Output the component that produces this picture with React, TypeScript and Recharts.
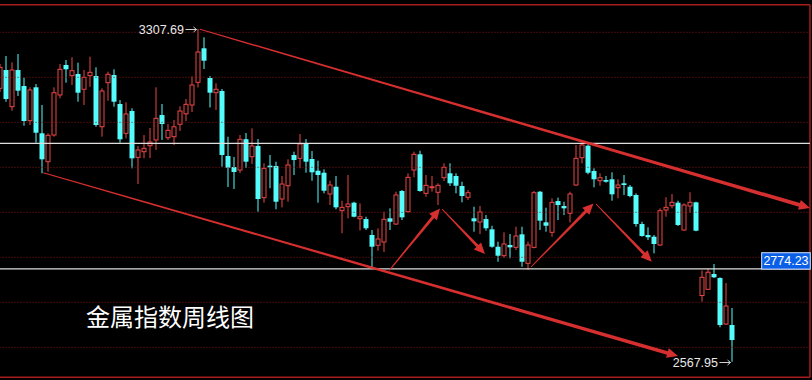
import React from 'react';
import { ComposedChart, Bar, XAxis, YAxis, ReferenceLine, ReferenceDot } from 'recharts';

// Weekly OHLC of the metals index
const opens = [
  3175.6, 3216.2, 3134.7, 3216.2, 3180.7, 3103.6, 3177.8, 3075.6, 3012.5, 3071.8,
  3160.7, 3227.4, 3203.6, 3207.4, 3173.4, 3203.6, 3202.9, 3090.2, 3188.0, 3205.1,
  3140.7, 3075.6, 3125.1, 3022.2, 3034.7, 3048.0, 3060.7, 3116.2, 3065.8, 3068.0,
  3095.6, 3118.9, 3138.5, 3188.9, 3264.5, 3198.5, 3165.8, 3169.6, 3025.1, 3000.7,
  2994.0, 3062.5, 3023.6, 3047.4, 2932.5, 3003.6, 3002.9, 2929.6, 2959.1, 3027.4,
  3020.0, 3051.8, 3018.5, 2992.5, 2988.0, 2940.7, 2956.9, 2903.6, 2912.5, 2921.4,
  2885.8, 2885.1, 2849.6, 2826.7, 2834.0, 2886.7, 2874.0, 2947.4, 2901.4, 2994.0,
  3028.9, 2942.2, 2954.7, 2944.5, 2976.9, 2986.7, 2980.7, 2958.5, 2933.4, 2886.7,
  2878.5, 2885.1, 2862.2, 2823.6, 2803.6, 2827.4, 2822.2, 2851.1, 2786.7, 2822.2,
  2945.8, 2877.8, 2855.6, 2925.1, 2914.0, 2897.8, 2960.7, 3021.4, 3048.0, 2991.8,
  2970.2, 2971.8, 2973.4, 2954.7, 2964.5, 2956.9, 2938.5, 2874.0, 2849.6, 2845.8,
  2827.4, 2905.1, 2914.7, 2921.4, 2860.7, 2914.0, 2922.2, 2715.1, 2728.9, 2762.9,
  2754.0, 2651.8, 2649.6,
];
const highs = [
  3229.6, 3247.4, 3233.4, 3251.8, 3199.1, 3177.8, 3185.1, 3138.5, 3075.6, 3177.8,
  3229.6, 3238.5, 3244.5, 3232.5, 3216.2, 3245.8, 3222.2, 3175.6, 3212.5, 3217.8,
  3149.6, 3144.5, 3131.1, 3047.4, 3071.8, 3087.4, 3177.8, 3140.7, 3096.2, 3105.1,
  3135.6, 3151.8, 3202.2, 3307.69, 3288.9, 3202.9, 3186.7, 3174.0, 3068.0, 3022.9,
  3071.8, 3076.2, 3086.7, 3062.9, 3008.9, 3027.4, 3012.5, 2980.7, 3017.8, 3034.7,
  3074.0, 3062.9, 3036.2, 3014.7, 2995.6, 2970.2, 2980.7, 2925.8, 2982.9, 2923.6,
  2919.6, 2890.2, 2860.7, 2864.5, 2901.4, 2908.9, 2945.8, 2949.6, 2986.7, 3034.7,
  3036.9, 2982.9, 2980.7, 2964.5, 3008.9, 3008.9, 2986.7, 2968.0, 2949.6, 2912.5,
  2914.0, 2894.0, 2870.2, 2834.7, 2855.6, 2851.8, 2868.0, 2868.0, 2834.7, 2947.4,
  2947.4, 2910.2, 2931.1, 2932.5, 2923.6, 2945.8, 3049.6, 3056.9, 3051.1, 2997.8,
  2986.7, 2980.7, 2988.9, 2973.4, 2982.9, 2960.7, 2942.2, 2879.1, 2866.7, 2849.6,
  2908.9, 2933.4, 2940.7, 2925.8, 2920.0, 2944.5, 2923.6, 2770.7, 2775.1, 2785.1,
  2755.6, 2742.9, 2687.4,
];
const lows = [
  3167.4, 3145.8, 3125.8, 3158.5, 3092.5, 3094.0, 3054.7, 2986.7, 2990.2, 3068.0,
  3153.4, 3188.0, 3182.9, 3145.8, 3138.5, 3179.1, 3090.2, 3068.0, 3148.0, 3134.7,
  3054.7, 3064.5, 2997.8, 2962.9, 3020.0, 3020.7, 3038.5, 3060.7, 3060.7, 3049.6,
  3080.7, 3102.9, 3122.9, 3177.4, 3218.5, 3132.9, 3127.4, 3001.4, 2956.2, 2951.8,
  2987.4, 2998.5, 3007.4, 2901.4, 2921.4, 2953.4, 2906.7, 2911.1, 2923.6, 2982.9,
  2997.8, 2988.0, 2970.2, 2921.4, 2942.2, 2916.2, 2906.7, 2853.4, 2886.7, 2888.9,
  2859.6, 2860.7, 2775.6, 2814.7, 2811.8, 2860.7, 2871.8, 2882.9, 2899.0, 2977.8,
  2945.8, 2934.7, 2945.8, 2916.2, 2969.6, 2958.5, 2942.2, 2922.2, 2927.4, 2856.9,
  2851.8, 2859.1, 2821.4, 2790.2, 2799.1, 2797.8, 2816.2, 2779.1, 2771.8, 2820.0,
  2860.7, 2856.9, 2845.8, 2882.9, 2894.0, 2877.8, 2959.1, 3008.9, 2984.5, 2955.6,
  2959.1, 2965.8, 2925.8, 2931.1, 2938.5, 2933.4, 2868.0, 2845.8, 2838.5, 2808.9,
  2825.0, 2890.2, 2908.9, 2869.6, 2859.1, 2899.1, 2858.0, 2701.4, 2727.4, 2754.0,
  2644.5, 2649.6, 2567.95,
];
const closes = [
  3222.2, 3151.8, 3216.2, 3170.2, 3102.9, 3171.8, 3076.9, 3017.8, 3071.1, 3165.8,
  3217.8, 3217.8, 3214.7, 3165.8, 3200.0, 3211.1, 3094.0, 3169.6, 3206.7, 3145.8,
  3062.2, 3118.5, 3020.0, 3038.5, 3042.2, 3056.2, 3108.9, 3096.2, 3082.2, 3090.0,
  3125.1, 3140.0, 3182.9, 3256.2, 3236.9, 3165.8, 3173.4, 3027.4, 2999.1, 2989.6,
  3062.2, 3012.5, 3047.4, 2929.6, 2997.8, 3000.0, 2923.6, 2962.9, 3005.1, 3016.2,
  3051.8, 3012.5, 2988.9, 2982.9, 2948.0, 2960.7, 2911.1, 2911.1, 2918.5, 2890.2,
  2890.2, 2864.5, 2823.6, 2840.7, 2884.5, 2879.1, 2938.5, 2888.9, 2977.8, 3028.9,
  2947.4, 2960.0, 2956.9, 2960.0, 3000.0, 2964.5, 2959.1, 2936.2, 2943.6, 2880.0,
  2900.7, 2864.5, 2823.6, 2803.6, 2829.6, 2822.2, 2847.4, 2790.2, 2827.4, 2943.6,
  2881.4, 2870.2, 2922.2, 2916.2, 2908.9, 2940.7, 3020.0, 3049.6, 2988.0, 2973.4,
  2976.9, 2968.0, 2940.0, 2960.7, 2960.7, 2936.2, 2874.0, 2847.4, 2844.5, 2829.6,
  2903.6, 2911.1, 2922.2, 2871.8, 2916.2, 2922.2, 2859.1, 2755.6, 2766.9, 2755.6,
  2649.6, 2691.8, 2616.2,
];

// Week slots on the time axis (empty slots leave room on the right)
const slotCount = 136;
const weeks = Array.from({ length: slotCount }, (_, i) => i);

// Horizontal levels
const gridPrices = [3300, 3200, 3100, 3000, 2900, 2800, 2700, 2600];
const resistanceLevel = 3053.3;
const lastPrice = 2774.23;

// Marked extremes
const peakWeek = 33;
const peakPrice = 3307.69;
const troughWeek = 122;
const troughPrice = 2567.95;

// Descending channel: [week, price] endpoints
const channelUpper: [number, number][] = [[33.42, 3306.7], [135.08, 2909.6]];
const channelLower: [number, number][] = [[7.3, 2988.0], [113.08, 2580.7]];

// Swing arrows: [week, price] start and end
const swingArrows: [number, number][][] = [
  [[64.97, 2771.1], [73.42, 2908.5]],
  [[73.75, 2907.4], [80.92, 2807.4]],
  [[88.58, 2778.5], [99.0, 2919.6]],
  [[99.42, 2918.5], [108.7, 2790.2]],
];

// Panel frame, in chart units
const frameTop = 3361.4;
const frameBottom = 2533.4;
const frameLeft = -0.5;
const frameRight = 135.08;
const priceBoxWeek = 131.08;

const RED = '#ec4646';
const CYAN = '#54fcfc';
const ARROW_RED = '#e23232';
const NUM_FONT = "Arial, 'Liberation Sans', sans-serif";

const data = weeks.map((i) =>
  i < opens.length
    ? { i, open: opens[i], high: highs[i], low: lows[i], close: closes[i], range: [lows[i], highs[i]] }
    : { i, range: null }
);

const Candle = (props: any) => {
  const { x, y, width, height, payload } = props;
  if (!payload || payload.high == null) return null;
  const top = Math.min(y, y + height);
  const h = Math.abs(height);
  const span = payload.high - payload.low;
  const k = span > 0 ? h / span : 0;
  const py = (v: number) => top + (payload.high - v) * k;
  const up = payload.close >= payload.open;
  const cx = x + width / 2;
  const bodyTop = py(Math.max(payload.open, payload.close));
  const bodyBot = py(Math.min(payload.open, payload.close));
  if (up) {
    const bh = Math.max(bodyBot - bodyTop, 0.8);
    return (
      <g>
        <line x1={cx} x2={cx} y1={top} y2={bodyTop} stroke={RED} strokeWidth={1} />
        <line x1={cx} x2={cx} y1={bodyTop + bh} y2={top + h} stroke={RED} strokeWidth={1} />
        <rect x={x + 0.5} y={bodyTop} width={width - 1} height={bh} fill="none" stroke={RED} strokeWidth={1} />
      </g>
    );
  }
  return (
    <g>
      <line x1={cx} x2={cx} y1={top} y2={top + h} stroke={CYAN} strokeWidth={1} />
      <rect x={x} y={bodyTop} width={width} height={Math.max(bodyBot - bodyTop, 1.5)} fill={CYAN} />
    </g>
  );
};

// Arrow whose shaft widens from w0 to w1 and ends in a triangular head
const taperedArrow = (w0: number, w1: number, headLen: number, headHalf: number, color: string) =>
  (p: any) => {
    const x1 = Number(p.x1), y1 = Number(p.y1), x2 = Number(p.x2), y2 = Number(p.y2);
    const dx = x2 - x1, dy = y2 - y1;
    const len = Math.hypot(dx, dy) || 1;
    const ux = dx / len, uy = dy / len;
    const nx = -uy, ny = ux;
    const bx = x2 - ux * headLen, by = y2 - uy * headLen;
    const pts = [
      [x1 + nx * w0 / 2, y1 + ny * w0 / 2],
      [bx + nx * w1 / 2, by + ny * w1 / 2],
      [bx + nx * headHalf, by + ny * headHalf],
      [x2, y2],
      [bx - nx * headHalf, by - ny * headHalf],
      [bx - nx * w1 / 2, by - ny * w1 / 2],
      [x1 - nx * w0 / 2, y1 - ny * w0 / 2],
    ];
    return <polygon points={pts.map((q) => q.join(',')).join(' ')} fill={color} fillOpacity={0.95} />;
  };

// Value tag with a small pointer ending at the candle
const extremeTag = (text: string) => (p: any) => {
  const cx = Number(p.cx);
  const cy = Math.round(Number(p.cy)) + 0.5;
  return (
    <g>
      <text x={cx - 13.5} y={cy} textAnchor="end" dominantBaseline="central" fontSize={12.5}
        fontFamily={NUM_FONT} fill="#e8e8e8">{text}</text>
      <line x1={cx - 12} y1={cy} x2={cx - 1} y2={cy} stroke="#cfcfcf" strokeWidth={1} />
      <polyline points={`${cx - 4},${cy - 2.5} ${cx - 1},${cy} ${cx - 4},${cy + 2.5}`} fill="none"
        stroke="#cfcfcf" strokeWidth={1} />
    </g>
  );
};

const priceBox = (text: string) => (p: any) => {
  const cx = Number(p.cx);
  const cy = Number(p.cy);
  return (
    <g>
      <rect x={cx - 24.3} y={cy - 16.2} width={48.6} height={16.4} fill="#0a5fe6" stroke="#d8e2ff" strokeWidth={1} />
      <text x={cx} y={cy - 7.8} textAnchor="middle" dominantBaseline="central" fontSize={12.5}
        fontFamily={NUM_FONT} fill="#ffffff">{text}</text>
    </g>
  );
};

export default function App() {
  return (
    <div style={{ position: 'fixed', left: 0, top: 0, width: 812, height: 380, background: '#000', overflow: 'hidden' }}>
      <div style={{ position: 'absolute', left: -4, top: 0 }}>
        <ComposedChart width={820} height={380} data={data} margin={{ top: 0, right: 3.5, bottom: 0, left: 0.5 }}>
          <XAxis xAxisId="c" dataKey="i" type="category" hide />
          <XAxis xAxisId="n" dataKey="i" type="number" domain={[-0.5, 135.5]} allowDataOverflow hide />
          <YAxis type="number" domain={[2527.4, 3371.8]} allowDataOverflow hide />

          {gridPrices.map((g) => (
            <ReferenceLine key={g} xAxisId="n" segment={[{ x: frameLeft, y: g }, { x: frameRight, y: g }]}
              stroke="#8a1616" strokeWidth={1} strokeDasharray="1 2" />
          ))}

          <ReferenceLine xAxisId="n" segment={[{ x: frameLeft, y: frameTop }, { x: frameRight, y: frameTop }]}
            stroke="#a81c1c" strokeWidth={1.5} />
          <ReferenceLine xAxisId="n" segment={[{ x: frameLeft, y: frameBottom }, { x: frameRight, y: frameBottom }]}
            stroke="#a81c1c" strokeWidth={1.5} />
          <ReferenceLine xAxisId="n" segment={[{ x: frameRight, y: frameTop }, { x: frameRight, y: frameBottom }]}
            stroke="#a81c1c" strokeWidth={1.5} />

          <ReferenceLine xAxisId="n" segment={[{ x: frameLeft, y: resistanceLevel }, { x: frameRight, y: resistanceLevel }]}
            stroke="#dedede" strokeWidth={1.2} />
          <ReferenceLine xAxisId="n" segment={[{ x: frameLeft, y: lastPrice }, { x: frameRight, y: lastPrice }]}
            stroke="#dedede" strokeWidth={1.2} />

          <Bar xAxisId="c" dataKey="range" barSize={5} shape={Candle} isAnimationActive={false} />

          <ReferenceLine xAxisId="n"
            segment={[{ x: channelUpper[0][0], y: channelUpper[0][1] }, { x: channelUpper[1][0], y: channelUpper[1][1] }]}
            shape={taperedArrow(1.2, 3.8, 11, 5, ARROW_RED)} />
          <ReferenceLine xAxisId="n"
            segment={[{ x: channelLower[0][0], y: channelLower[0][1] }, { x: channelLower[1][0], y: channelLower[1][1] }]}
            shape={taperedArrow(1.2, 3.6, 11, 5, ARROW_RED)} />
          {swingArrows.map((a, k) => (
            <ReferenceLine key={k} xAxisId="n"
              segment={[{ x: a[0][0], y: a[0][1] }, { x: a[1][0], y: a[1][1] }]}
              shape={taperedArrow(1, 3, 11, 5, ARROW_RED)} />
          ))}

          <ReferenceDot xAxisId="n" x={peakWeek} y={peakPrice} r={1} shape={extremeTag(peakPrice.toFixed(2))} />
          <ReferenceDot xAxisId="n" x={troughWeek} y={troughPrice} r={1} shape={extremeTag(troughPrice.toFixed(2))} />
          <ReferenceDot xAxisId="n" x={priceBoxWeek} y={lastPrice} r={1} shape={priceBox(lastPrice.toFixed(2))} />
        </ComposedChart>
      </div>
      <div style={{ position: 'absolute', left: 86, top: 304, fontSize: 24, lineHeight: '24px', color: '#ffffff',
        fontFamily: "'Noto Sans CJK SC', sans-serif", whiteSpace: 'nowrap' }}>
        金属指数周线图
      </div>
    </div>
  );
}
